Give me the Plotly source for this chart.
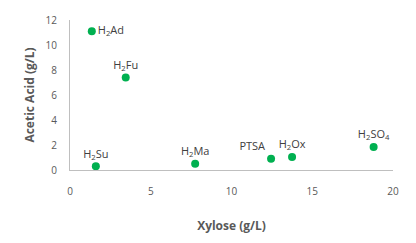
import plotly.graph_objects as go

acids = ["H<sub>2</sub>Ad", "H<sub>2</sub>Fu", "H<sub>2</sub>Su", "H<sub>2</sub>Ma", "PTSA", "H<sub>2</sub>Ox", "H<sub>2</sub>SO<sub>4</sub>"]
xylose = [1.35, 3.45, 1.6, 7.75, 12.45, 13.75, 18.8]
acetic = [11.1, 7.4, 0.3, 0.5, 0.9, 1.05, 1.85]
text_pos = ["middle right", "top center", "top center", "top center", "top left", "top center", "top center"]

fig = go.Figure(go.Scatter(
    x=xylose, y=acetic, mode="markers+text", text=acids,
    textposition=text_pos,
    marker=dict(color="#00B050", size=8),
    textfont=dict(family="Open Sans, sans-serif", size=11, color="#404040"),
    cliponaxis=False, showlegend=False,
))

fig.update_layout(
    width=416, height=243,
    margin=dict(l=70, r=23, t=16, b=73),
    paper_bgcolor="white", plot_bgcolor="white",
    font=dict(family="Open Sans, sans-serif", color="#595959", size=10),
    xaxis=dict(range=[0, 20], dtick=5, showgrid=False, zeroline=False,
               showline=True, linecolor="#BFBFBF", linewidth=1, ticks="",
               ticklabelstandoff=12,
               title=dict(text="<b>Xylose (g/L)</b>", font=dict(size=12, color="#595959"), standoff=24)),
    yaxis=dict(range=[0, 12], dtick=2, showgrid=False, zeroline=False,
               showline=True, linecolor="#BFBFBF", linewidth=1, ticks="",
               ticklabelstandoff=10,
               title=dict(text="<b>Acetic Acid (g/L)</b>", font=dict(size=12, color="#595959"), standoff=8)),
)

fig.write_html("out.html")
